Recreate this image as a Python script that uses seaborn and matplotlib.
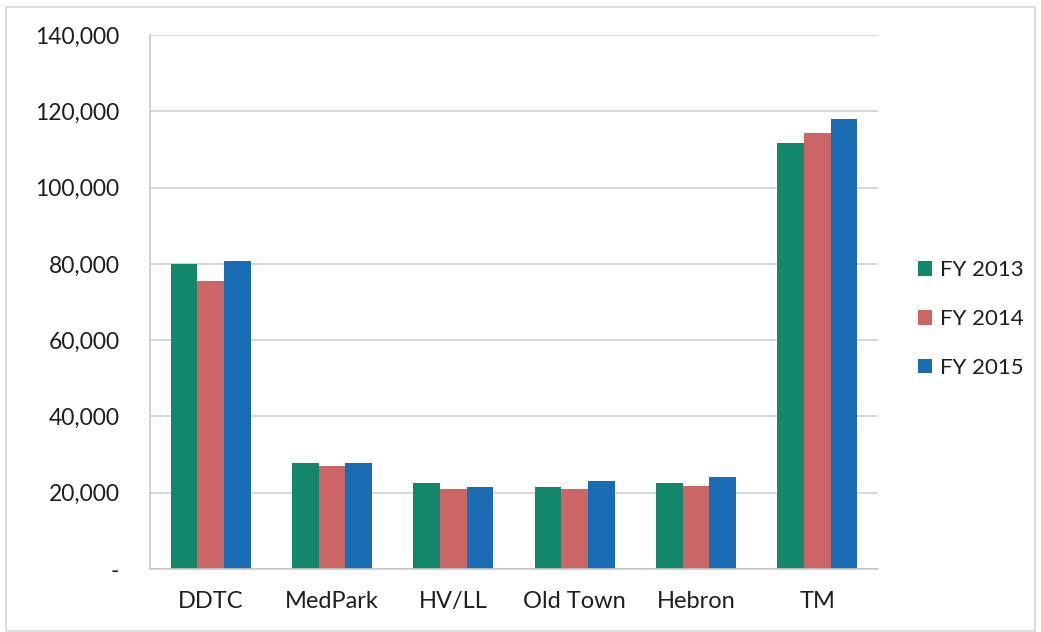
import numpy as np
import pandas as pd
import matplotlib
matplotlib.use("Agg")
import matplotlib.pyplot as plt
import seaborn as sns
from matplotlib.ticker import FuncFormatter, FixedLocator
from matplotlib.patches import Rectangle

categories = ["DDTC", "MedPark", "HV/LL", "Old Town", "Hebron", "TM"]
series_names = ["FY 2013", "FY 2014", "FY 2015"]
fy2013 = [80000, 27700, 22600, 21400, 22600, 111700]
fy2014 = [75600, 27000, 20900, 20900, 21750, 114400]
fy2015 = [80800, 27800, 21600, 23100, 24200, 118000]
y_ticks = [0, 20000, 40000, 60000, 80000, 100000, 120000, 140000]

colors = ["#12876a", "#cc6666", "#1a6db5"]

rows = []
for name, vals in zip(series_names, [fy2013, fy2014, fy2015]):
    for c, v in zip(categories, vals):
        rows.append({"Location": c, "Series": name, "Value": v})
df = pd.DataFrame(rows)

sns.set_theme(style="white")
plt.rcParams["font.family"] = ["Lato", "DejaVu Sans"]

fig = plt.figure(figsize=(10.41, 6.32), dpi=100)
ax = fig.add_axes([150/1041, 1-569/632, (878-150)/1041, (569-35)/632])

sns.barplot(data=df, x="Location", y="Value", hue="Series", order=categories,
            hue_order=series_names, palette=colors, saturation=1, width=0.66,
            ax=ax, errorbar=None, legend=True, linewidth=0)

ax.set_ylim(0, 140000)
ax.set_xlim(-0.5, len(categories) - 0.5)
ax.yaxis.set_major_locator(FixedLocator(y_ticks))
ax.yaxis.set_major_formatter(FuncFormatter(lambda v, p: "-" if v == 0 else f"{int(v):,}"))
ax.grid(axis="y", color="#d0d0d0", linewidth=1.2)
ax.set_axisbelow(True)
ax.set_xlabel("")
ax.set_ylabel("")

for s in ["top", "right"]:
    ax.spines[s].set_visible(False)
for s in ["left", "bottom"]:
    ax.spines[s].set_color("#c8c8c8")
    ax.spines[s].set_linewidth(1.2)

ax.tick_params(axis="y", which="major", length=10, width=1.2, color="#d0d0d0",
               labelsize=16.5, labelcolor="#1e1e1e", pad=12)
ax.tick_params(axis="x", which="major", length=0, labelsize=17, labelcolor="#1e1e1e", pad=16)
ax.xaxis.set_minor_locator(FixedLocator(np.arange(-0.5, len(categories), 1.0)))
ax.tick_params(axis="x", which="minor", length=8, width=1.2, color="#c8c8c8", direction="out")

handles, labels = ax.get_legend_handles_labels()
ax.legend_.remove()
fig.legend(handles, labels, loc="center left", bbox_to_anchor=(898/1041, 1-319/632),
           frameon=False, prop={"size": 16}, handlelength=0.65, handleheight=0.65,
           handletextpad=0.35, labelspacing=1.3, labelcolor="#1e1e1e")

fig.patches.append(Rectangle((6/1041, 0.002), 1-12/1041, 1-8/632, transform=fig.transFigure,
                             fill=False, edgecolor="#d8d8d8", linewidth=1.2))

fig.savefig("out.png", dpi=100)
